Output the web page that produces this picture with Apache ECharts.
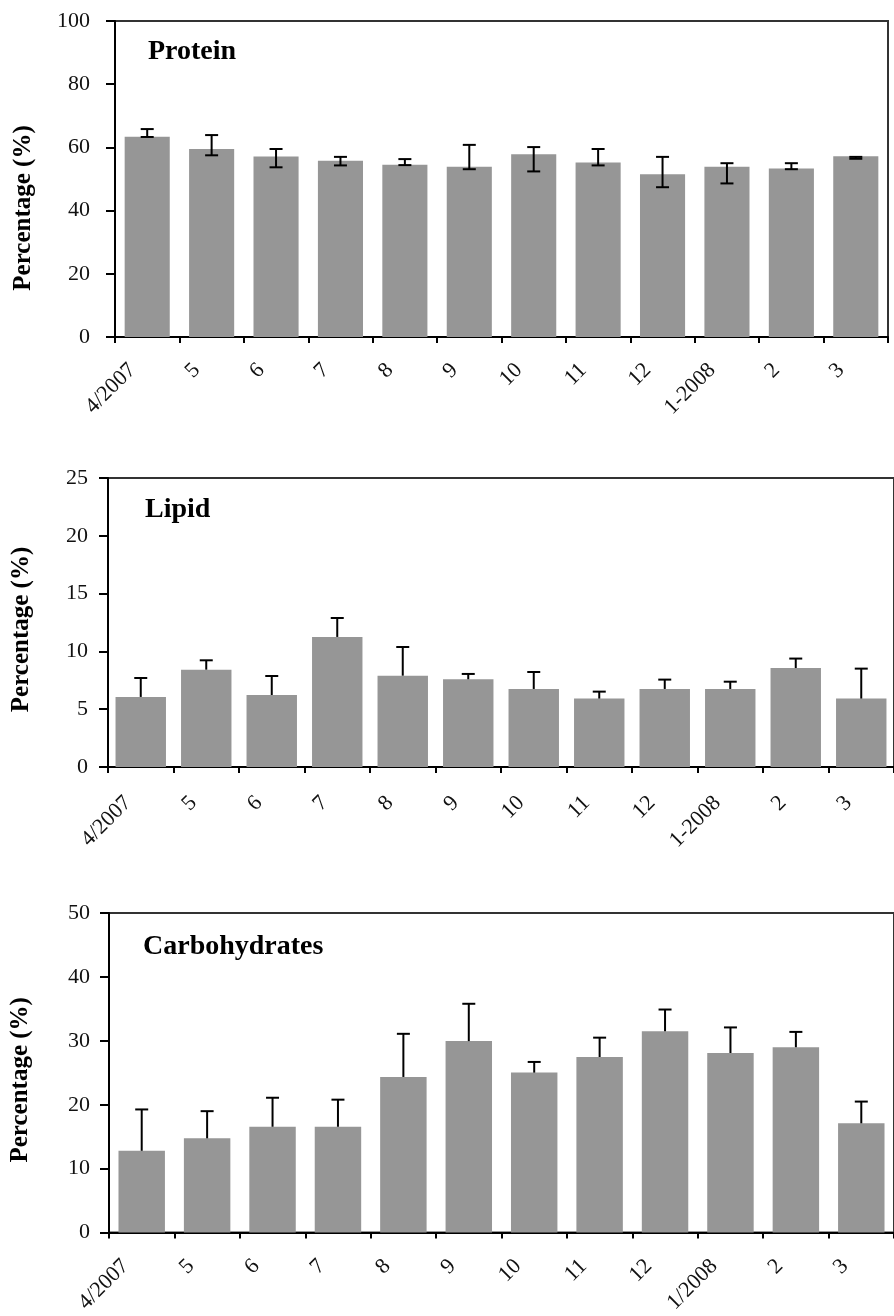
<!DOCTYPE html>
<html>
<head>
<meta charset="utf-8">
<script src="https://cdn.jsdelivr.net/npm/echarts@6.0.0/dist/echarts.min.js"></script>
<style>
  html, body { margin: 0; padding: 0; background: #fff; }
  #main { width: 894px; height: 1316px; }
</style>
</head>
<body>
<div id="main"></div>
<script>
// month labels
const months = ['4/2007', '5', '6', '7', '8', '9', '10', '11', '12', '1-2008', '2', '3'];
const monthsCarb = ['4/2007', '5', '6', '7', '8', '9', '10', '11', '12', '1/2008', '2', '3'];

// protein: bar value, error bar low and high ends
const proteinMean = [63.4, 59.5, 57.1, 55.8, 54.5, 53.9, 57.8, 55.2, 51.5, 53.9, 53.3, 57.2];
const proteinLow = [63.3, 57.5, 53.7, 54.3, 54.4, 53.1, 52.4, 54.3, 47.4, 48.6, 53.1, 56.4];
const proteinHigh = [65.8, 63.9, 59.5, 57.0, 56.3, 60.8, 60.1, 59.5, 57.0, 55.0, 55.0, 57.0];

// lipid: bar value, upper error end
const lipidMean = [6.06, 8.42, 6.23, 11.25, 7.9, 7.59, 6.75, 5.92, 6.75, 6.75, 8.56, 5.92];
const lipidHigh = [7.7, 9.23, 7.87, 12.89, 10.38, 8.05, 8.22, 6.52, 7.56, 7.38, 9.38, 8.51];

// carbohydrates: bar value, upper error end
const carbMean = [12.8, 14.75, 16.56, 16.56, 24.35, 29.96, 25.03, 27.47, 31.5, 28.1, 29.0, 17.1];
const carbHigh = [19.27, 19.0, 21.1, 20.8, 31.1, 35.8, 26.7, 30.5, 34.9, 32.1, 31.4, 20.5];

const FONT = "'Liberation Serif', 'Times New Roman', serif";
const BAR_COLOR = '#969696';

let chart = echarts.init(document.getElementById('main'));

// error bar: stem from low to high, cap at top, optional cap at bottom
function renderError(params, api) {
  let idx = api.value(0);
  let top = api.coord([idx, api.value(2)]);
  let bot = api.coord([idx, api.value(1)]);
  let half = 6.5;
  let style = { stroke: '#000', lineWidth: 2 };
  let children = [
    { type: 'line', shape: { x1: top[0], y1: top[1], x2: bot[0], y2: bot[1] }, style: style },
    { type: 'line', shape: { x1: top[0] - half, y1: top[1], x2: top[0] + half, y2: top[1] }, style: style }
  ];
  if (api.value(3)) {
    children.push({ type: 'line', shape: { x1: bot[0] - half, y1: bot[1], x2: bot[0] + half, y2: bot[1] }, style: style });
  }
  return { type: 'group', children: children };
}

function xAxisOf(idx, data, margin, pad) {
  return {
    type: 'category',
    gridIndex: idx,
    data: data,
    axisLine: { lineStyle: { color: '#000', width: 2 } },
    axisTick: { show: true, length: 6, lineStyle: { color: '#000', width: 2 } },
    axisLabel: {
      interval: 0,
      rotate: 45,
      margin: margin,
      padding: [0, pad, 0, 0],
      fontFamily: FONT,
      fontSize: 22,
      color: '#111'
    },
    splitLine: { show: false }
  };
}

function yAxisOf(idx, max, interval, margin, nameGap, namePad) {
  return {
    type: 'value',
    gridIndex: idx,
    min: 0,
    max: max,
    interval: interval,
    axisLine: { show: true, lineStyle: { color: '#000', width: 2 } },
    axisTick: { show: true, length: 9, lineStyle: { color: '#000', width: 2 } },
    axisLabel: { margin: margin, fontFamily: FONT, fontSize: 22, color: '#111' },
    splitLine: { show: false },
    name: 'Percentage (%)',
    nameLocation: 'middle',
    nameRotate: 90,
    nameGap: nameGap,
    nameTextStyle: {
      fontFamily: FONT,
      fontWeight: 'bold',
      fontSize: 25,
      color: '#000',
      padding: [0, namePad, 0, 0]
    }
  };
}

function titleOf(text, left, top) {
  return {
    text: text,
    left: left,
    top: top,
    padding: 0,
    textStyle: { fontFamily: FONT, fontWeight: 'bold', fontSize: 28, color: '#000' }
  };
}

function barOf(idx, data, gap) {
  return {
    type: 'bar',
    xAxisIndex: idx,
    yAxisIndex: idx,
    data: data,
    barCategoryGap: gap,
    itemStyle: { color: BAR_COLOR },
    silent: true
  };
}

function errOf(idx, data) {
  return {
    type: 'custom',
    xAxisIndex: idx,
    yAxisIndex: idx,
    data: data,
    encode: { x: 0, y: [1, 2] },
    renderItem: renderError,
    z: 5,
    silent: true
  };
}

let proteinErr = proteinMean.map((v, i) => [i, proteinLow[i], proteinHigh[i], 1]);
let lipidErr = lipidMean.map((v, i) => [i, v, lipidHigh[i], 0]);
let carbErr = carbMean.map((v, i) => [i, v, carbHigh[i], 0]);

let gridStyle = { show: true, borderColor: '#333', borderWidth: 2, backgroundColor: 'transparent' };

let option = {
  backgroundColor: '#fff',
  animation: false,
  title: [
    titleOf('Protein', 148, 38),
    titleOf('Lipid', 145, 496),
    titleOf('Carbohydrates', 143, 933)
  ],
  grid: [
    Object.assign({ left: 115, top: 21, width: 773, height: 316 }, gridStyle),
    Object.assign({ left: 108, top: 478, width: 794, height: 289 }, gridStyle),
    Object.assign({ left: 109, top: 913, width: 797, height: 321 }, gridStyle)
  ],
  xAxis: [
    xAxisOf(0, months, 15, 21),
    xAxisOf(1, months, 20, 18),
    xAxisOf(2, monthsCarb, 14, 23)
  ],
  yAxis: [
    yAxisOf(0, 100, 20, 25, 79, 58),
    yAxisOf(1, 25, 5, 20, 74, 14),
    yAxisOf(2, 50, 10, 19, 76, 14)
  ],
  series: [
    barOf(0, proteinMean, '30%'),
    errOf(0, proteinErr),
    barOf(1, lipidMean, '23%'),
    errOf(1, lipidErr),
    barOf(2, carbMean, '29%'),
    errOf(2, carbErr)
  ]
};

if (option && typeof option === 'object') {
  chart.setOption(option);
}
</script>
</body>
</html>
